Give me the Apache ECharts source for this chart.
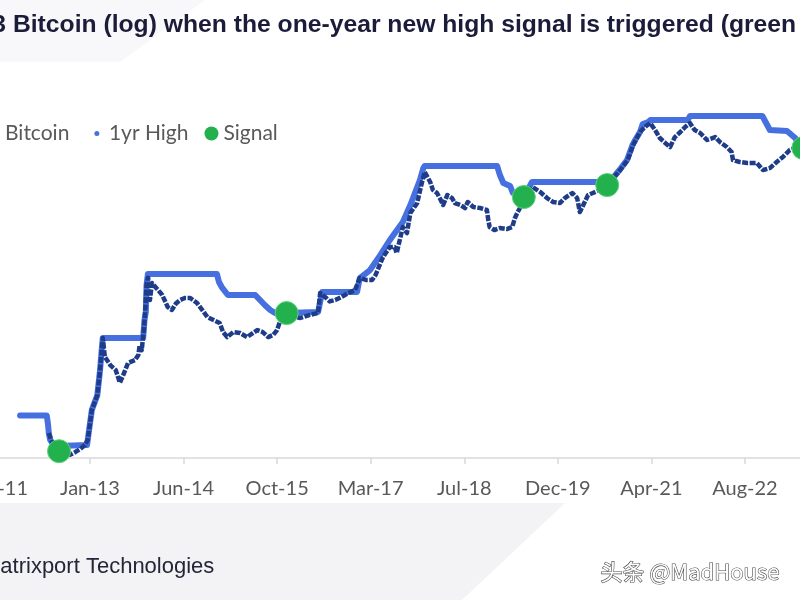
<!DOCTYPE html>
<html>
<head>
<meta charset="utf-8">
<script src="https://cdn.jsdelivr.net/npm/echarts@6/dist/echarts.min.js"></script>
<style>
  html, body { margin: 0; padding: 0; background: #ffffff; }
  #chart { width: 800px; height: 600px; }
</style>
</head>
<body>
<div id="chart"></div>
<script>
// x axis: one tick every 500 days from the first tick date (Sep 2011)
const tickLabels = ['Sep-11', 'Jan-13', 'Jun-14', 'Oct-15', 'Mar-17', 'Jul-18', 'Dec-19', 'Apr-21', 'Aug-22', 'Jan-24'];
const startYear = 2011.704; // first tick, as decimal year

// 1yr high (USD, log scale)
const highYear = [2012.05, 2012.44, 2012.46, 2012.47, 2012.49, 2012.56, 2012.62, 2013.03, 2013.04, 2013.10, 2013.18, 2013.22, 2013.25, 2013.26,
  2013.85, 2013.86, 2013.87, 2013.89, 2013.90, 2013.92, 2014.93, 2014.96, 2015.00, 2015.09, 2015.49, 2015.56, 2015.63, 2015.71, 2015.78,
  2015.95, 2016.41, 2016.47, 2016.98, 2017.02, 2017.17, 2017.32, 2017.46, 2017.65, 2017.76, 2017.90, 2017.95, 2017.97, 2019.03, 2019.07,
  2019.12, 2019.22, 2019.26, 2019.42, 2019.54, 2020.49, 2020.64, 2020.70, 2020.82, 2020.93, 2021.01, 2021.05, 2021.12, 2021.16, 2021.24,
  2021.27, 2021.82, 2021.85, 2022.91, 2023.02, 2023.27, 2023.39, 2023.46, 2023.51];
const highPrice = [25, 25, 19.4, 15.6, 13, 10.7, 11.0, 11.3, 13, 29, 43, 84, 165, 199,
  199, 246, 322, 400, 822, 1100, 1100, 890, 778, 629, 629, 550, 481, 421, 388,
  388, 399, 681, 681, 991, 1228, 1832, 2742, 4438, 7000, 13678, 18843, 19883, 19883, 15632,
  12614, 11643, 9647, 8670, 12947, 12947, 12614, 13678, 17865, 23338, 34917, 39910, 49440, 61200, 64560,
  68090, 68090, 75870, 75870, 52120, 50760, 42094, 34917, 32217];

// Bitcoin price (USD, log scale)
const btcYear = [2012.47, 2012.52, 2012.58, 2012.62, 2012.70, 2012.78, 2012.86, 2012.93, 2013.00, 2013.04, 2013.10, 2013.18, 2013.22, 2013.26,
  2013.29, 2013.37, 2013.45, 2013.51, 2013.56, 2013.63, 2013.73, 2013.78, 2013.80, 2013.83, 2013.86, 2013.88, 2013.90, 2013.92,
  2013.95, 2013.98, 2014.07, 2014.13, 2014.21, 2014.27, 2014.33, 2014.39, 2014.46, 2014.54, 2014.64, 2014.79, 2014.97, 2015.02,
  2015.08, 2015.17, 2015.27, 2015.37, 2015.52, 2015.60, 2015.68, 2015.75, 2015.81, 2015.85, 2015.91, 2015.95, 2016.00, 2016.15,
  2016.29, 2016.41, 2016.44, 2016.53, 2016.58, 2016.66, 2016.75, 2016.85, 2016.95, 2017.02, 2017.12, 2017.20, 2017.25, 2017.36,
  2017.46, 2017.53, 2017.56, 2017.65, 2017.71, 2017.76, 2017.86, 2017.92, 2017.97, 2018.05, 2018.09, 2018.15, 2018.19, 2018.24,
  2018.30, 2018.37, 2018.41, 2018.49, 2018.56, 2018.60, 2018.68, 2018.78, 2018.88, 2018.90, 2018.92, 2018.99, 2019.07, 2019.17,
  2019.25, 2019.29, 2019.33, 2019.39, 2019.42, 2019.55, 2019.66, 2019.76, 2019.85, 2019.95, 2020.02, 2020.13, 2020.20, 2020.24,
  2020.29, 2020.36, 2020.43, 2020.53, 2020.64, 2020.70, 2020.83, 2020.94, 2021.02, 2021.12, 2021.21, 2021.27, 2021.34, 2021.41,
  2021.49, 2021.56, 2021.63, 2021.71, 2021.78, 2021.85, 2021.92, 2022.00, 2022.10, 2022.22, 2022.29, 2022.39, 2022.46, 2022.48,
  2022.58, 2022.69, 2022.83, 2022.92, 2023.02, 2023.12, 2023.21, 2023.31, 2023.42, 2023.51];
const btcPrice = [15.6, 12, 10.2, 9.6, 9.0, 8.7, 9.4, 10.2, 11.3, 13, 28.9, 43, 84, 199,
  120, 96, 84, 60, 74, 102, 110, 126, 165, 144, 246, 399, 822, 1000,
  550, 866, 718, 629, 456, 421, 500, 550, 580, 580, 507, 349, 297, 233,
  204, 233, 227, 204, 246, 233, 204, 215, 246, 305, 358, 388, 358, 340,
  370, 388, 663, 580, 530, 550, 596, 663, 718, 991, 939, 939, 1074, 1738,
  2271, 2271, 1936, 3882, 3305, 5650, 7385, 11944, 16935, 12947, 10457, 9647, 8438, 7001,
  9145, 8438, 7385, 7001, 6457, 7585, 6637, 6457, 6122, 4680, 3882, 3582, 3777, 3680,
  3882, 4944, 5800, 7001, 8670, 11330, 9913, 8438, 7585, 7385, 8438, 9647, 8438, 5800,
  7001, 9145, 9647, 10457, 11944, 13678, 17865, 23338, 34917, 49440, 58000, 62840, 52120, 42094,
  36800, 33040, 43200, 49440, 56500, 62840, 52120, 48100, 39910, 43200, 37800, 33040, 28900, 23338,
  22137, 21538, 21538, 17865, 18800, 22137, 25300, 30490, 33040, 32217];

// one-year new high signals
const signalYear = [2012.62, 2015.95, 2019.42, 2020.64, 2023.51];
const signalPrice = [9.6, 388, 8670, 11944, 32217];

function toDays(y) { return (y - startYear) * 365.25; }
function pairs(xs, ys) { return xs.map((x, i) => [toDays(x), ys[i]]); }

const chart = echarts.init(document.getElementById('chart'), null, { renderer: 'canvas' });

const option = {
  animation: false,
  backgroundColor: '#ffffff',
  textStyle: { fontFamily: 'Lato' },
  title: {
    text: 'Chart 3 Bitcoin (log) when the one-year new high signal is triggered (green dots)',
    left: -79,
    top: 13,
    padding: 0,
    textStyle: { fontFamily: '"Liberation Sans", Arial', fontWeight: 'bold', fontSize: 24.7, color: '#1b1b3a' }
  },
  legend: {
    left: -14,
    top: 122,
    padding: 0,
    itemWidth: 14,
    itemHeight: 14,
    itemGap: 16,
    textStyle: { fontFamily: 'Lato', fontSize: 21, color: '#595959' },
    data: [
      { name: 'Bitcoin', icon: 'rect', itemStyle: { color: '#1f3c88' } },
      { name: '1yr High', icon: 'circle', itemStyle: { color: '#4670e0', borderColor: '#ffffff', borderWidth: 9 } },
      { name: 'Signal', icon: 'circle', itemStyle: { color: '#22b14c', borderWidth: 0 } }
    ]
  },
  grid: {
    left: -3.57,
    top: 105.7,
    width: 842.1,
    height: 352.3,
    containLabel: false,
    outerBoundsMode: 'none'
  },
  xAxis: {
    type: 'value',
    min: 0,
    max: 4500,
    interval: 500,
    axisLine: { lineStyle: { color: '#d9d9d9', width: 1.5 } },
    axisTick: { show: true, length: 6, lineStyle: { color: '#d9d9d9', width: 1.5 } },
    splitLine: { show: false },
    axisLabel: {
      margin: 21,
      fontFamily: 'Lato',
      fontSize: 20,
      color: '#595959',
      formatter: v => tickLabels[Math.round(v / 500)] || ''
    }
  },
  yAxis: {
    type: 'log',
    logBase: 10,
    min: 8,
    max: 100000,
    show: false,
    splitLine: { show: false }
  },
  graphic: [
    {
      type: 'polygon', z: -10, silent: true,
      shape: { points: [[0, 503], [565, 503], [462, 600], [0, 600]] },
      style: { fill: '#f3f3f5' }
    },
    {
      type: 'polygon', z: -10, silent: true,
      shape: { points: [[0, 0], [205, 0], [120, 62], [0, 62]] },
      style: { fill: '#f8f8fa' }
    },
    {
      type: 'text', left: -18, top: 556,
      style: { text: 'Matrixport Technologies', font: '22px "Liberation Sans", Arial', fill: '#25253a' }
    },
    {
      type: 'text', left: 600, top: 560,
      style: {
        text: '头条 @MadHouse', font: '22px "Noto Sans CJK SC", "Noto Sans"',
        fill: '#ffffff', stroke: '#4a4a4a', lineWidth: 1.2
      }
    }
  ],
  series: [
    {
      name: '1yr High',
      type: 'line',
      data: pairs(highYear, highPrice),
      showSymbol: false,
      lineStyle: { color: '#4670e0', width: 6, cap: 'round', join: 'round' },
      itemStyle: { color: '#4670e0' },
      z: 2
    },
    {
      name: 'Bitcoin',
      type: 'line',
      data: pairs(btcYear, btcPrice),
      showSymbol: false,
      lineStyle: { color: '#1f3c88', width: 4.5, type: [6, 1.5], join: 'round' },
      itemStyle: { color: '#1f3c88' },
      z: 3
    },
    {
      name: 'Signal',
      type: 'scatter',
      data: pairs(signalYear, signalPrice),
      symbol: 'circle',
      symbolSize: 23,
      itemStyle: { color: '#22b14c', borderColor: '#5ed07f', borderWidth: 1, opacity: 1 },
      z: 4
    }
  ]
};

chart.setOption(option);
</script>
</body>
</html>
